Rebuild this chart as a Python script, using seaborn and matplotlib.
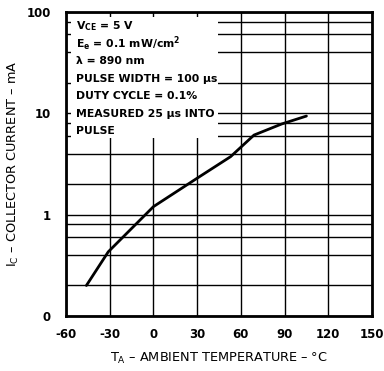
import numpy as np
import pandas as pd
import matplotlib
matplotlib.use("Agg")
import matplotlib.pyplot as plt
from matplotlib.patches import Rectangle
import seaborn as sns

sns.set_style("white")
plt.rcParams["font.family"] = ["Liberation Sans Narrow", "DejaVu Sans"]
plt.rcParams["font.weight"] = "bold"
plt.rcParams["text.color"] = "black"
plt.rcParams["axes.labelcolor"] = "black"
plt.rcParams["xtick.color"] = "black"
plt.rcParams["ytick.color"] = "black"
plt.rcParams["mathtext.fontset"] = "custom"
plt.rcParams["mathtext.rm"] = "Liberation Sans Narrow:bold"

# curve
temp_c = [-46, -31, 0, 30, 53, 69, 88, 105]
ic_ma = [0.2, 0.43, 1.2, 2.29, 3.74, 6.1, 7.85, 9.4]

x_ticks = [-60, -30, 0, 30, 60, 90, 120, 150]
y_major = [0.1, 1, 10, 100]
y_major_labels = ["0", "1", "10", "100"]
y_minor = [0.2, 0.4, 0.6, 0.8, 2, 4, 6, 8, 20, 40, 60, 80]

conditions = [
    r"V$_\mathregular{CE}$ = 5 V",
    r"E$_\mathregular{e}$ = 0.1 mW/cm$^\mathregular{2}$",
    "λ = 890 nm",
    "PULSE WIDTH = 100 µs",
    "DUTY CYCLE = 0.1%",
    "MEASURED 25 µs INTO",
    "PULSE",
]

df = pd.DataFrame({"temp": temp_c, "ic": ic_ma})

fig = plt.figure(figsize=(3.84, 3.71), dpi=100)
ax = fig.add_axes([66 / 384, 1 - 316 / 371, 306 / 384, 304 / 371])

sns.lineplot(data=df, x="temp", y="ic", sort=False, color="black",
             linewidth=2.0, ax=ax, zorder=3)

ax.set_yscale("log")
ax.set_xlim(-60, 150)
ax.set_ylim(0.1, 100)
ax.set_xticks(x_ticks)
ax.set_xticklabels([str(t) for t in x_ticks])
ax.set_yticks(y_major)
ax.set_yticklabels(y_major_labels)
ax.set_yticks(y_minor, minor=True)
ax.yaxis.set_minor_formatter(plt.NullFormatter())

ax.set_axisbelow(True)
ax.grid(True, which="both", axis="y", color="black", linewidth=1.0)
ax.grid(True, which="major", axis="x", color="black", linewidth=1.0)
ax.tick_params(which="both", length=0)
ax.tick_params(axis="y", pad=11, labelsize=8.5)
ax.tick_params(axis="x", pad=9, labelsize=8.5)

for s in ax.spines.values():
    s.set_visible(True)
    s.set_color("black")
    s.set_linewidth(2.0)

# white box behind the test conditions
ax.add_patch(Rectangle((0.016, 0.586), 0.481, 0.398, transform=ax.transAxes,
                       facecolor="white", edgecolor="none", zorder=1))

y0 = 0.955
for i, line in enumerate(conditions):
    ax.text(0.033, y0 - i * 0.058, line, transform=ax.transAxes,
            fontsize=7.8, va="center", ha="left", zorder=4)

ax.set_xlabel(r"T$_\mathregular{A}$ – AMBIENT TEMPERATURE – °C", fontsize=9.3,
              labelpad=7)
ax.set_ylabel(r"I$_\mathregular{C}$ – COLLECTOR CURRENT – mA", fontsize=9.3,
              labelpad=4)

fig.savefig("out.png", dpi=100)
